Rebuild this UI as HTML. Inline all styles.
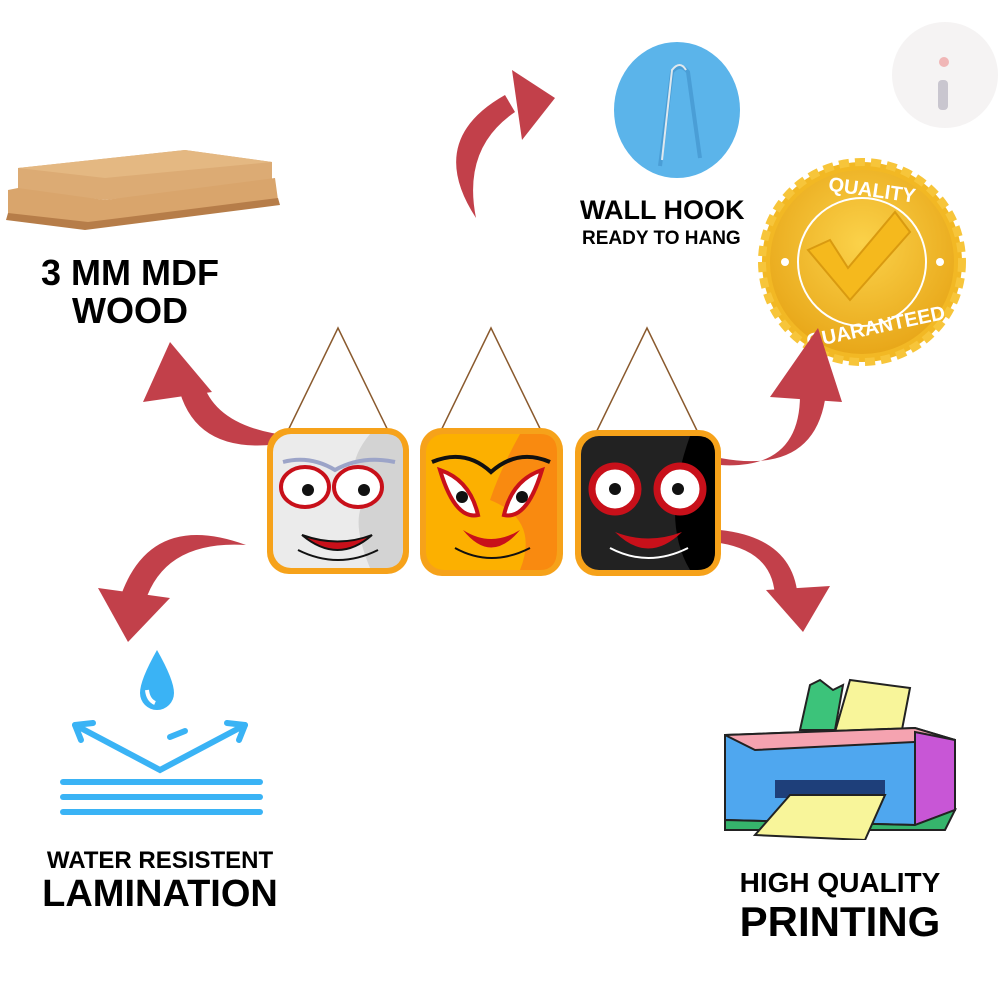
<!DOCTYPE html>
<html><head><style>
html,body{margin:0;padding:0;background:#fff;}
body{width:1000px;height:1000px;position:relative;overflow:hidden;font-family:"Liberation Sans",sans-serif;}
.t{position:absolute;font-weight:bold;color:#000;text-align:center;white-space:nowrap;}
</style></head><body>
<svg width="1000" height="1000" style="position:absolute;left:0;top:0">
<defs>
<radialGradient id="gold" cx="50%" cy="40%" r="60%"><stop offset="0" stop-color="#fbd24a"/><stop offset="1" stop-color="#e8a719"/></radialGradient>
<linearGradient id="wood" x1="0" y1="0" x2="0" y2="1"><stop offset="0" stop-color="#e2b27a"/><stop offset="1" stop-color="#c8905a"/></linearGradient>
</defs>
<circle cx="945" cy="75" r="53" fill="#f5f3f3"/>
<rect x="938" y="80" width="10" height="30" rx="4" fill="#c9c6cf"/>
<circle cx="944" cy="62" r="5" fill="#f0b6b6"/>
<!-- wood -->
<polygon points="18,168 185,150 272,162 272,182 105,200 18,190" fill="#dcab74"/>
<polygon points="18,168 185,150 272,162 105,178" fill="#e4b882"/>
<polygon points="8,190 18,188 105,200 275,178 278,200 88,225 8,215" fill="#d9a56c"/>
<polygon points="8,213 88,222 278,198 280,205 85,230 6,220" fill="#b67d49"/>
<!-- wall hook -->
<ellipse cx="677" cy="110" rx="63" ry="68" fill="#5bb4ea"/>
<path d="M660 166 L672 72 Q680 62 688 72 L700 158" fill="none" stroke="#4a9ed6" stroke-width="4"/>
<path d="M662 160 L672 70 Q680 60 686 70" fill="none" stroke="#dfe8ee" stroke-width="2"/>
<!-- quality seal -->
<circle cx="862" cy="262" r="100" fill="#f2b824" stroke="#f7c53a" stroke-width="8" stroke-dasharray="10 6"/>
<circle cx="862" cy="262" r="92" fill="url(#gold)"/>
<circle cx="862" cy="262" r="64" fill="none" stroke="#fff" stroke-width="2"/>
<circle cx="785" cy="262" r="4" fill="#fff"/><circle cx="940" cy="262" r="4" fill="#fff"/>
<text x="862" y="196" text-anchor="middle" font-family="Liberation Sans" font-weight="bold" font-size="20" fill="#fff" transform="rotate(8 862 262)">QUALITY</text>
<text x="862" y="335" text-anchor="middle" font-family="Liberation Sans" font-weight="bold" font-size="20" fill="#fff" transform="rotate(-12 862 262)">GUARANTEED</text>
<polygon points="808,250 830,240 848,268 895,212 910,232 850,300" fill="#f5b91d" stroke="#d99a10" stroke-width="2"/>
<!-- arrows -->
<g fill="#c2404a" stroke="none">
<path d="M476 218 Q425 140 505 95 L515 112 Q462 148 476 218Z"/>
<polygon points="555,98 512,70 522,140"/>
<path d="M292 442 Q195 460 178 385 L202 380 Q215 428 292 436Z"/>
<polygon points="170,342 143,402 212,392"/>
<path d="M720 465 Q800 470 800 395 L825 400 Q812 475 720 458Z"/>
<polygon points="818,328 770,397 842,402"/>
<path d="M246 545 Q150 510 120 598 L145 602 Q165 540 246 545Z"/>
<polygon points="128,642 98,588 170,598"/>
<path d="M720 530 Q795 538 798 600 L775 600 Q775 552 720 543Z"/>
<polygon points="803,632 766,590 830,586"/>
</g>
<g stroke="#8a5a2e" stroke-width="1.5" fill="none">
<path d="M280 447 L338 328 L396 447"/>
<path d="M433 447 L491 328 L549 447"/>
<path d="M589 447 L647 328 L705 447"/>
</g>
<g>
<rect x="267" y="428" width="142" height="146" rx="22" fill="#f6a21a"/>
<rect x="273" y="434" width="130" height="134" rx="18" fill="#ebebeb"/>
<path d="M370 434 L385 434 Q403 434 403 452 L403 548 Q403 568 385 568 L370 568 Q350 520 365 500 Q340 470 370 434Z" fill="#d3d3d3"/>
<ellipse cx="305" cy="487" rx="24" ry="20" fill="#fff" stroke="#c8101a" stroke-width="4"/>
<ellipse cx="358" cy="487" rx="24" ry="20" fill="#fff" stroke="#c8101a" stroke-width="4"/>
<circle cx="308" cy="490" r="6" fill="#111"/><circle cx="364" cy="490" r="6" fill="#111"/>
<path d="M302 535 Q338 565 372 535 Q338 548 302 535Z" fill="#c8101a" stroke="#111" stroke-width="2"/>
<path d="M298 550 Q338 570 378 550" stroke="#111" stroke-width="2" fill="none"/>
<path d="M283 462 Q310 455 335 470 Q362 455 395 462" stroke="#9ca4c8" stroke-width="4" fill="none"/>
<rect x="420" y="428" width="143" height="148" rx="22" fill="#f6a21a"/>
<rect x="426" y="434" width="131" height="136" rx="18" fill="#fcb000"/>
<path d="M520 434 L540 434 Q557 434 557 452 L557 550 Q557 570 540 570 L520 570 Q540 520 490 500 Q500 470 520 434Z" fill="#f98a10"/>
<path d="M440 470 Q470 480 478 515 Q455 520 440 470Z" fill="#fff" stroke="#c8101a" stroke-width="4"/>
<path d="M542 470 Q512 480 504 515 Q527 520 542 470Z" fill="#fff" stroke="#c8101a" stroke-width="4"/>
<circle cx="462" cy="497" r="6" fill="#111"/><circle cx="522" cy="497" r="6" fill="#111"/>
<path d="M463 530 Q491 565 520 530 Q491 548 463 530Z" fill="#c8101a"/>
<path d="M455 548 Q491 568 530 548" stroke="#111" stroke-width="2" fill="none"/>
<path d="M432 462 Q465 448 491 472 Q518 448 550 462" stroke="#111" stroke-width="4" fill="none"/>
<rect x="575" y="430" width="146" height="146" rx="22" fill="#f6a21a"/>
<rect x="581" y="436" width="134" height="134" rx="18" fill="#222"/>
<path d="M690 436 L697 436 Q715 436 715 454 L715 552 Q715 570 697 570 L690 570 Q660 520 690 436Z" fill="#000"/>
<circle cx="615" cy="489" r="23" fill="#fff" stroke="#c8101a" stroke-width="7"/>
<circle cx="680" cy="489" r="23" fill="#fff" stroke="#c8101a" stroke-width="7"/>
<circle cx="615" cy="489" r="6" fill="#111"/><circle cx="678" cy="489" r="6" fill="#111"/>
<path d="M615 532 Q648 565 682 532 Q648 545 615 532Z" fill="#c8101a"/>
<path d="M610 548 Q648 568 688 548" stroke="#fff" stroke-width="2" fill="none"/>
</g>
</svg>
<div class="t" style="left:580px;top:195px;font-size:27px;">WALL HOOK</div>
<div class="t" style="left:582px;top:228px;font-size:19px;">READY TO HANG</div>
<div class="t" style="left:20px;top:254px;width:220px;font-size:36px;line-height:38px;">3 MM MDF<br>WOOD</div>
<svg width="220" height="180" style="position:absolute;left:55px;top:645px">
<path d="M102 5 Q85 35 85 48 A17 17 0 0 0 119 48 Q119 35 102 5Z" fill="#3ab3f5"/>
<path d="M92 45 Q93 55 100 58" stroke="#fff" stroke-width="4" fill="none"/>
<g stroke="#3ab3f5" stroke-width="6" fill="none" stroke-linecap="round">
<path d="M20 80 L105 125 L190 80"/>
<path d="M20 80 L38 78 M20 80 L26 95"/><path d="M190 80 L172 78 M190 80 L184 95"/>
<path d="M115 92 L130 86"/>
<path d="M8 137 L205 137"/><path d="M8 152 L205 152"/><path d="M8 167 L205 167"/>
</g>
</svg>
<div class="t" style="left:30px;top:847px;width:260px;font-size:24px;">WATER RESISTENT</div>
<div class="t" style="left:30px;top:873px;width:260px;font-size:38px;">LAMINATION</div>
<svg width="250" height="170" style="position:absolute;left:715px;top:670px">
<polygon points="95,15 105,10 118,20 128,15 120,60 85,60" fill="#3cc37a" stroke="#222" stroke-width="2"/>
<polygon points="135,10 195,18 185,70 120,62" fill="#f8f59a" stroke="#222" stroke-width="2"/>
<path d="M10 65 L200 58 L240 70 L240 140 L200 155 L10 150Z" fill="#4fa7ef" stroke="#222" stroke-width="2"/>
<path d="M10 65 L200 58 L240 70 L40 80Z" fill="#f5a3b0" stroke="#222" stroke-width="2"/>
<path d="M200 62 L240 70 L240 140 L200 155Z" fill="#c856d6" stroke="#222" stroke-width="2"/>
<rect x="60" y="110" width="110" height="18" fill="#1e3f7a"/>
<path d="M10 150 L200 155 L240 140 L230 160 L10 160Z" fill="#36b46c" stroke="#222" stroke-width="2"/>
<polygon points="75,125 170,125 150,170 40,165" fill="#f8f59a" stroke="#222" stroke-width="2"/>
</svg>
<div class="t" style="left:700px;top:867px;width:280px;font-size:28px;">HIGH QUALITY</div>
<div class="t" style="left:700px;top:898px;width:280px;font-size:42px;">PRINTING</div>
</body></html>
